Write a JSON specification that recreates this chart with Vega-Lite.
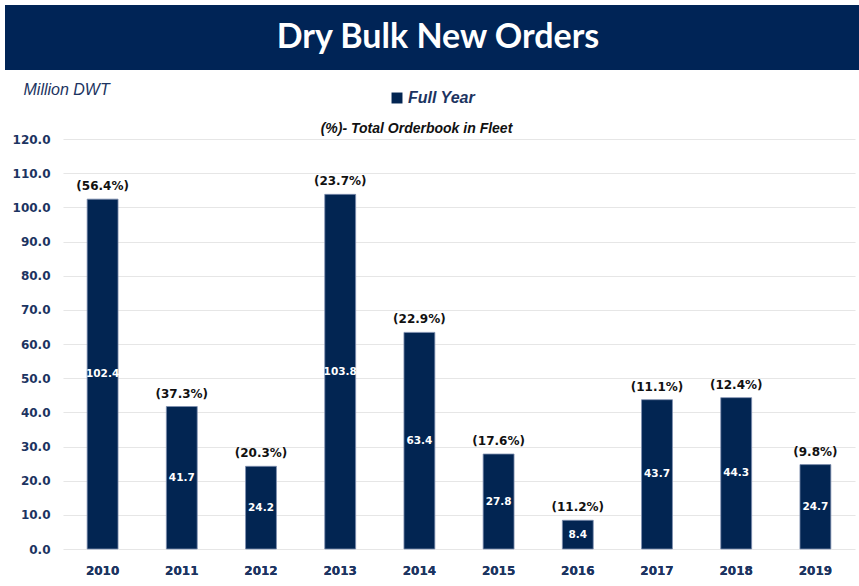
{
  "$schema": "https://vega.github.io/schema/vega-lite/v6.json",
  "padding": {"left": 5, "top": 5, "right": 0, "bottom": 0},
  "background": "white",
  "spacing": 11,
  "resolve": {"legend": {"color": "independent"}},
  "config": {"view": {"stroke": null}},
  "vconcat": [
    {
      "width": 854,
      "height": 65,
      "view": {"fill": "#002456", "stroke": null},
      "data": {"values": [{"t": "Dry Bulk New Orders"}]},
      "mark": {"type": "text", "font": "Lato", "fontWeight": "bold", "fontSize": 34, "color": "white", "baseline": "middle", "dx": 6},
      "encoding": {"text": {"field": "t"}}
    },
    {
      "resolve": {"legend": {"color": "independent"}},
      "spacing": 6,
      "hconcat": [
        {
          "width": 1,
          "height": 410,
          "data": {"values": [{"t": ""}]},
          "mark": {"type": "text"},
          "encoding": {"text": {"field": "t"}}
        },
        {
          "width": 792,
          "height": 410,
          "data": {"values": [
            {"year": "2010", "value": 102.4, "pct": "(56.4%)"},
            {"year": "2011", "value": 41.7, "pct": "(37.3%)"},
            {"year": "2012", "value": 24.2, "pct": "(20.3%)"},
            {"year": "2013", "value": 103.8, "pct": "(23.7%)"},
            {"year": "2014", "value": 63.4, "pct": "(22.9%)"},
            {"year": "2015", "value": 27.8, "pct": "(17.6%)"},
            {"year": "2016", "value": 8.4, "pct": "(11.2%)"},
            {"year": "2017", "value": 43.7, "pct": "(11.1%)"},
            {"year": "2018", "value": 44.3, "pct": "(12.4%)"},
            {"year": "2019", "value": 24.7, "pct": "(9.8%)"}
          ]},
          "encoding": {
            "x": {"field": "year", "type": "nominal", "sort": null,
              "scale": {"paddingInner": 0.61, "paddingOuter": 0.305},
              "axis": {"orient": "bottom", "title": null, "labelAngle": 0, "domain": false, "ticks": false,
                "labelPadding": 16, "labelFont": "DejaVu Sans", "labelFontWeight": "bold", "labelFontSize": 12, "labelColor": "#1c3461"}}
          },
          "resolve": {"scale": {"y": "independent"}, "axis": {"y": "independent"}},
          "layer": [
            {
              "mark": {"type": "bar", "stroke": "#7f8fb0", "strokeWidth": 0.8},
              "encoding": {
                "y": {"field": "value", "type": "quantitative",
                  "scale": {"domain": [0, 120], "nice": false},
                  "axis": {"values": [0, 10, 20, 30, 40, 50, 60, 70, 80, 90, 100, 110, 120], "format": ".1f", "labelOverlap": false,
                    "domain": false, "ticks": false, "gridColor": "#e6e6e6", "gridWidth": 1.2,
                    "labelPadding": 13, "labelFont": "DejaVu Sans", "labelFontWeight": "bold", "labelFontSize": 12, "labelColor": "#1c3461",
                    "title": "Million DWT", "titleAngle": 0, "titleX": -40, "titleY": -50, "titleAlign": "left", "titleBaseline": "middle",
                    "titleFont": "Liberation Sans", "titleFontStyle": "italic", "titleFontWeight": "normal", "titleFontSize": 16, "titleColor": "#1c3461"}},
                "color": {"datum": "Full Year", "type": "nominal",
                  "scale": {"range": ["#022552"]},
                  "legend": {"title": null, "orient": "none", "legendX": 326, "legendY": -49, "symbolType": "square", "symbolSize": 120,
                    "symbolStrokeWidth": 0, "labelOffset": 3,
                    "labelFont": "Liberation Sans", "labelFontStyle": "italic", "labelFontWeight": "bold", "labelFontSize": 16, "labelColor": "#1c3461"}}
              }
            },
            {
              "mark": {"type": "text", "font": "DejaVu Sans", "fontWeight": "bold", "fontSize": 10.5, "color": "white", "baseline": "middle"},
              "encoding": {
                "x": {"field": "year", "type": "nominal", "sort": null,
                  "axis": {"orient": "top", "labels": false, "ticks": false, "domain": false, "grid": false,
                    "title": "(%)- Total Orderbook in Fleet", "titleX": 353, "titlePadding": 4,
                    "titleFont": "Liberation Sans", "titleFontStyle": "italic", "titleFontWeight": "bold", "titleFontSize": 14, "titleColor": "#111111"}},
                "y": {"field": "value", "type": "quantitative", "scale": {"domain": [0, 240], "nice": false}, "axis": null},
                "text": {"field": "value", "type": "quantitative", "format": ".1f"}
              }
            },
            {
              "mark": {"type": "text", "font": "DejaVu Sans", "fontWeight": "bold", "fontSize": 12, "color": "#111111", "baseline": "bottom", "dy": -6},
              "encoding": {
                "y": {"field": "value", "type": "quantitative", "scale": {"domain": [0, 120], "nice": false}, "axis": null},
                "text": {"field": "pct"}
              }
            }
          ]
        }
      ]
    }
  ]
}
